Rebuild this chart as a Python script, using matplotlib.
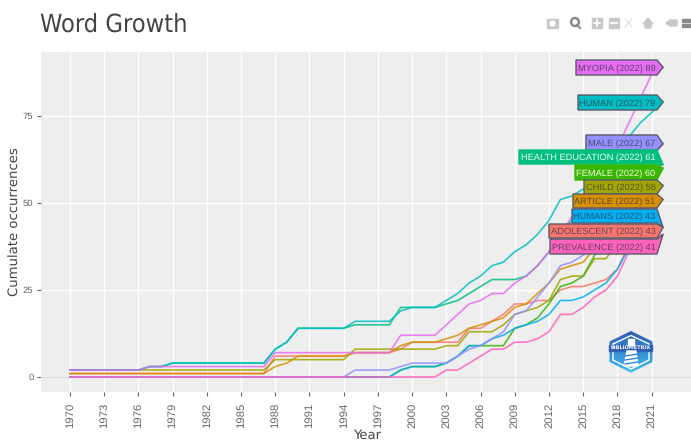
import numpy as np
import matplotlib
matplotlib.use("Agg")
import matplotlib.pyplot as plt
from matplotlib.patches import Polygon, Rectangle, Circle
from matplotlib.transforms import IdentityTransform

plt.rcParams["text.hinting"] = "none"

years = np.arange(1970, 2023)
tick_years = np.arange(1970, 2022, 3)
y_ticks = [0, 25, 50, 75]

adolescent = [1]*10 + [1]*8 + [6, 6] + [6, 6, 6, 6, 6, 7, 7, 7, 7, 8] + \
    [10, 10, 10, 10, 10, 14, 14, 16, 18, 21] + [21, 22, 22, 25, 26, 26, 27, 28, 31, 38] + [41, 42, 43]
article = [1]*10 + [1]*8 + [3, 4] + [6, 6, 6, 6, 6, 7, 7, 7, 7, 9] + \
    [10, 10, 10, 11, 12, 14, 15, 16, 17, 20] + [21, 24, 27, 31, 32, 33, 37, 40, 43, 46] + [48, 50, 51]
child = [2]*10 + [2]*8 + [5, 5] + [5, 5, 5, 5, 5, 8, 8, 8, 8, 8] + \
    [8, 8, 8, 9, 9, 13, 13, 13, 15, 18] + [19, 20, 22, 28, 29, 29, 34, 34, 39, 44] + [49, 53, 55]
female = [0]*10 + [0]*10 + [0]*9 + [2] + \
    [3, 3, 3, 4, 6, 9, 9, 9, 9, 14] + [15, 17, 21, 26, 27, 29, 35, 39, 44, 50] + [54, 58, 60]
health_education = [2]*7 + [3, 3, 4] + [4]*8 + [8, 10] + [14, 14, 14, 14, 14, 15, 15, 15, 15, 20] + \
    [20, 20, 20, 21, 22, 24, 26, 28, 28, 28] + [29, 32, 36, 41, 45, 48, 50, 52, 54, 56] + [58, 60, 61]
human = [2]*7 + [3, 3, 4] + [4]*8 + [8, 10] + [14, 14, 14, 14, 14, 16, 16, 16, 16, 19] + \
    [20, 20, 20, 22, 24, 27, 29, 32, 33, 36] + [38, 41, 45, 51, 52, 54, 57, 60, 64, 69] + [73, 76, 79]
humans = [0]*10 + [0]*10 + [0]*9 + [2] + \
    [3, 3, 3, 4, 6, 9, 9, 11, 12, 14] + [15, 16, 18, 22, 22, 23, 25, 27, 31, 37] + [40, 42, 43]
male = [0]*10 + [0]*10 + [0, 0, 0, 0, 0, 2, 2, 2, 2, 3] + \
    [4, 4, 4, 4, 6, 8, 9, 11, 13, 18] + [19, 23, 27, 32, 33, 35, 38, 42, 47, 53] + [58, 63, 67]
myopia = [2]*7 + [3, 3, 3] + [3]*8 + [7, 7] + [7]*9 + [12] + \
    [12, 12, 12, 15, 18, 21, 22, 24, 24, 27] + [29, 32, 36, 41, 46, 50, 55, 60, 66, 73] + [80, 87, 89]
prevalence = [0]*10 + [0]*10 + [0]*10 + \
    [0, 0, 0, 2, 2, 4, 6, 8, 8, 10] + [10, 11, 13, 18, 18, 20, 23, 25, 29, 36] + [39, 40, 41]

names = ["ADOLESCENT", "ARTICLE", "CHILD", "FEMALE", "HEALTH EDUCATION",
         "HUMAN", "HUMANS", "MALE", "MYOPIA", "PREVALENCE"]
series = [adolescent, article, child, female, health_education,
          human, humans, male, myopia, prevalence]
colors = ["#F8766D", "#D89000", "#A3A500", "#39B600", "#00BF7D",
          "#00BFC4", "#00B0F6", "#9590FF", "#E76BF3", "#FF62BC"]

# label boxes in image pixels: name, left, top, bottom
boxes = [("MYOPIA", 576, 60, 75), ("HUMAN", 578, 95, 110), ("MALE", 586, 135, 150),
         ("HEALTH EDUCATION", 519, 150, 164), ("FEMALE", 575, 165, 180),
         ("CHILD", 584, 180, 194), ("ARTICLE", 573, 194, 208), ("HUMANS", 572, 209, 223),
         ("ADOLESCENT", 549, 224, 238), ("PREVALENCE", 550, 239, 254)]

W, H = 691, 441
fig = plt.figure(figsize=(W/100, H/100), dpi=100)
ax = fig.add_axes([40.5/W, 1-392/H, (W-40.5)/W, 340/H])
ax.set_facecolor("#EEEEEE")
ax.set_xlim(1967.42, 2024.45)
ax.set_ylim(-4.31, 93.39)
ax.grid(color="white", lw=1)
ax.set_axisbelow(True)
ax.axhline(0, color="#DEDEDE", lw=1, zorder=1)
for s in ax.spines.values():
    s.set_visible(False)

for vals, c in zip(series, colors):
    ax.plot(years, vals, color=c, lw=1.2, alpha=0.85, solid_joinstyle="round", zorder=3)

ax.set_xticks(tick_years)
ax.set_xticklabels([str(y) for y in tick_years], rotation=90, fontsize=8.2,
                   color="#666666", family="Liberation Sans")
ax.set_yticks(y_ticks)
ax.set_yticklabels([str(y) for y in y_ticks], fontsize=6.8, color="#666666", family="Liberation Sans")
ax.tick_params(axis="both", color="#666666", length=3, width=0.8)
ax.tick_params(axis="x", pad=4.5)
ax.tick_params(axis="y", pad=2)

fig.text(367/W, 1-435/H, "Year", fontsize=9.5, color="#444444", ha="center", va="center")
fig.text(15/W, 1-222/H, "Cumulate occurrences", fontsize=9.5, color="#444444",
         rotation=90, ha="center", va="center")
fig.text(40/W, 1-32/H, "Word Growth", fontsize=18.2, color="#444444", ha="left", va="baseline",
         family="DejaVu Sans", stretch="condensed")

# labels with pointer to the last value
last = dict(zip(names, series))
col = dict(zip(names, colors))
for name, left, top, bot in boxes:
    tip = ax.transData.transform((2022, last[name][-1]))
    light = name in ("HEALTH EDUCATION", "FEMALE")
    pts = [(left, H-top), (657, H-top), tuple(tip), (657, H-bot), (left, H-bot)]
    ax.add_patch(Polygon(pts, closed=True, transform=IdentityTransform(), facecolor=col[name],
                         edgecolor=col[name] if light else "#5a5a6a", lw=1, clip_on=False, zorder=5))
    ax.text(655.5, H-(top+bot)/2, f"{name} (2022) {last[name][-1]}", transform=IdentityTransform(),
            family="Liberation Sans", fontsize=6.7, ha="right", va="center_baseline",
            color="white" if light else "#3a3a4a", alpha=0.95 if light else 0.8, zorder=6)

# toolbar icons
over = fig.add_axes([0, 0, 1, 1], facecolor="none")
over.set_xlim(0, W)
over.set_ylim(H, 0)
over.axis("off")
g = "#C8C8C8"
over.add_patch(Rectangle((547, 19), 11, 9, color=g))
over.add_patch(Circle((552.5, 23.5), 2.5, color="white"))
over.add_patch(Circle((575, 22), 4.5, color="#8a8a8a"))
over.add_patch(Circle((575, 22), 2, color="white"))
over.plot([577, 580], [25, 28], color="#8a8a8a", lw=1.5)
over.add_patch(Rectangle((592, 18), 10, 10, color=g))
over.plot([594, 600], [23, 23], color="white", lw=1.2)
over.plot([597, 597], [20, 26], color="white", lw=1.2)
over.add_patch(Rectangle((609, 18), 10, 10, color=g))
over.plot([611, 617], [23, 23], color="white", lw=1.2)
over.plot([625, 632], [19, 27], color="#DDDDDD", lw=0.8)
over.plot([625, 632], [27, 19], color="#DDDDDD", lw=0.8)
over.add_patch(Polygon([(643, 24), (648, 18), (653, 24), (651, 24), (651, 28), (645, 28), (645, 24)], color=g))
over.add_patch(Polygon([(666, 23), (670, 20), (677, 20), (677, 26), (670, 26)], color=g))
over.add_patch(Rectangle((682, 19), 9, 3, color="#8a8a8a"))
over.add_patch(Rectangle((682, 24), 9, 3, color="#8a8a8a"))

# bibliometrix logo
hex_pts = [(631, 331), (652.5, 341.5), (652.5, 362), (631, 372.7), (609.5, 362), (609.5, 341.5)]
grad = np.linspace(0, 1, 64).reshape(-1, 1, 1) * (np.array([0.25, 0.75, 0.95]) - np.array([0.18, 0.36, 0.72])) + \
    np.array([0.18, 0.36, 0.72])
im = over.imshow(grad, extent=(609, 653, 373, 331), aspect="auto", zorder=2)
hex_patch = Polygon(hex_pts, closed=True, transform=over.transData, facecolor="none", edgecolor="none")
over.add_patch(hex_patch)
im.set_clip_path(hex_patch)
over.set_xlim(0, W)
over.set_ylim(H, 0)
inner = [(631, 335.5), (649, 344), (649, 360), (631, 369), (613, 360), (613, 344)]
over.add_patch(Polygon(inner, closed=True, facecolor="none", edgecolor="white", lw=1, zorder=3))
over.add_patch(Rectangle((609.5, 344.5), 43, 6, color="#2F5FB5", zorder=4))
over.text(631, 347.7, "BIBLIOMETRIX", fontsize=3.6, fontweight="bold", color="white",
          ha="center", va="center", zorder=5)
over.add_patch(Polygon([(627, 351), (636, 351), (638, 366), (624, 366)], color="white", zorder=4))
over.add_patch(Rectangle((628, 339), 6, 5.5, color="white", zorder=4))
for yy in (355, 359, 363):
    over.plot([625, 638], [yy+1, yy-1], color="#2F86D8", lw=1, zorder=5)

fig.savefig("out.png", dpi=100)
